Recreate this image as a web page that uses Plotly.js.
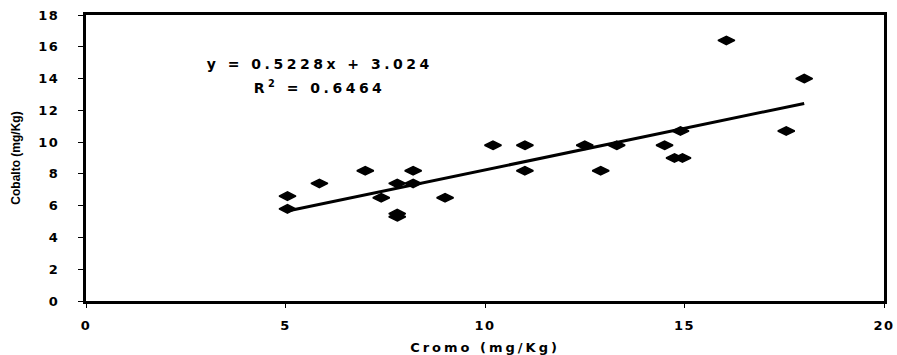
<!DOCTYPE html>
<html>
<head>
<meta charset="utf-8">
<script src="https://cdn.plot.ly/plotly-3.0.1.min.js"></script>
<style>
  html, body { margin: 0; padding: 0; background: #fff; }
  #chart { width: 897px; height: 355px; }
  g.xtick text, g.ytick text { letter-spacing: 1.5px; }
  text.xtitle { letter-spacing: 3px; }
  g.annotation text.annotation-text { letter-spacing: 3.5px; }
</style>
</head>
<body>
<div id="chart"></div>
<script>
// Cromo (mg/Kg) vs Cobalto (mg/Kg)
const cromo = [5.05, 5.05, 5.85, 7.0, 7.4, 7.8, 7.8, 7.8, 8.2, 8.2, 9.0,
               10.2, 11.0, 11.0, 12.5, 12.9, 13.3, 14.5, 14.75, 14.95, 14.9,
               16.05, 17.55, 18.0];
const cobalto = [6.6, 5.8, 7.4, 8.2, 6.5, 7.4, 5.5, 5.3, 8.2, 7.4, 6.5,
                 9.8, 9.8, 8.2, 9.8, 8.2, 9.8, 9.8, 9.0, 9.0, 10.7,
                 16.4, 10.7, 14.0];

// Linear trendline as printed on the chart
const slope = 0.5228;
const intercept = 3.024;
const r2 = 0.6464;

const xTickVals = [0, 5, 10, 15, 20];
const yTickVals = [0, 2, 4, 6, 8, 10, 12, 14, 16, 18];

const xMin = Math.min(...cromo);
const xMax = Math.max(...cromo);
const trendX = [xMin, xMax];
const trendY = trendX.map(v => slope * v + intercept);

const data = [
  {
    x: trendX, y: trendY, type: 'scatter', mode: 'lines',
    line: { color: '#000', width: 3 }, hoverinfo: 'skip', showlegend: false
  },
  {
    x: cromo, y: cobalto, type: 'scatter', mode: 'markers',
    marker: { symbol: 'diamond-wide', size: 12, color: '#000',
              line: { color: '#000', width: 1.5 } },
    showlegend: false
  }
];

const tickFont = { family: 'DejaVu Sans, Liberation Sans, Arial, sans-serif', size: 13, color: '#000', weight: 'bold' };
const gap = '\u00A0\u00A0';

const layout = {
  width: 897, height: 355,
  margin: { l: 86, r: 13, t: 15, b: 54 },
  paper_bgcolor: '#fff', plot_bgcolor: '#fff',
  showlegend: false,
  xaxis: {
    range: [0, 20], tickvals: xTickVals, ticktext: xTickVals.map(String),
    showgrid: false, zeroline: false,
    showline: true, linecolor: '#000', linewidth: 3, mirror: true,
    ticks: 'outside', ticklen: 4, tickwidth: 1, tickcolor: '#000',
    ticklabelstandoff: 6,
    tickfont: tickFont,
    title: { text: 'Cromo (mg/Kg)', standoff: 12,
             font: { family: 'DejaVu Sans, Liberation Sans, Arial, sans-serif', size: 13, color: '#000', weight: 'bold' } }
  },
  yaxis: {
    range: [0, 18], tickvals: yTickVals, ticktext: yTickVals.map(v => String(v) + gap),
    showgrid: false, zeroline: false,
    showline: true, linecolor: '#000', linewidth: 3, mirror: true,
    ticks: 'outside', ticklen: 5, tickwidth: 1, tickcolor: '#000',
    ticklabelstandoff: 4,
    tickfont: tickFont,
    title: { text: 'Cobalto (mg/Kg)', standoff: 16,
             font: { family: 'Liberation Sans Narrow, Liberation Sans, Arial, sans-serif', size: 12, color: '#000', weight: 'bold' } }
  },
  annotations: [
    {
      xref: 'paper', yref: 'paper', x: 0.293, y: 0.829,
      xanchor: 'center', yanchor: 'middle', showarrow: false,
      text: 'y = ' + slope + 'x + ' + intercept,
      font: { family: 'DejaVu Sans, Liberation Sans, Arial, sans-serif', size: 14, color: '#000', weight: 'bold' }
    },
    {
      xref: 'paper', yref: 'paper', x: 0.293, y: 0.748,
      xanchor: 'center', yanchor: 'middle', showarrow: false,
      text: 'R<sup>2</sup> = ' + r2,
      font: { family: 'DejaVu Sans, Liberation Sans, Arial, sans-serif', size: 14, color: '#000', weight: 'bold' }
    }
  ]
};

Plotly.newPlot('chart', data, layout, { staticPlot: true, displayModeBar: false });
</script>
</body>
</html>
